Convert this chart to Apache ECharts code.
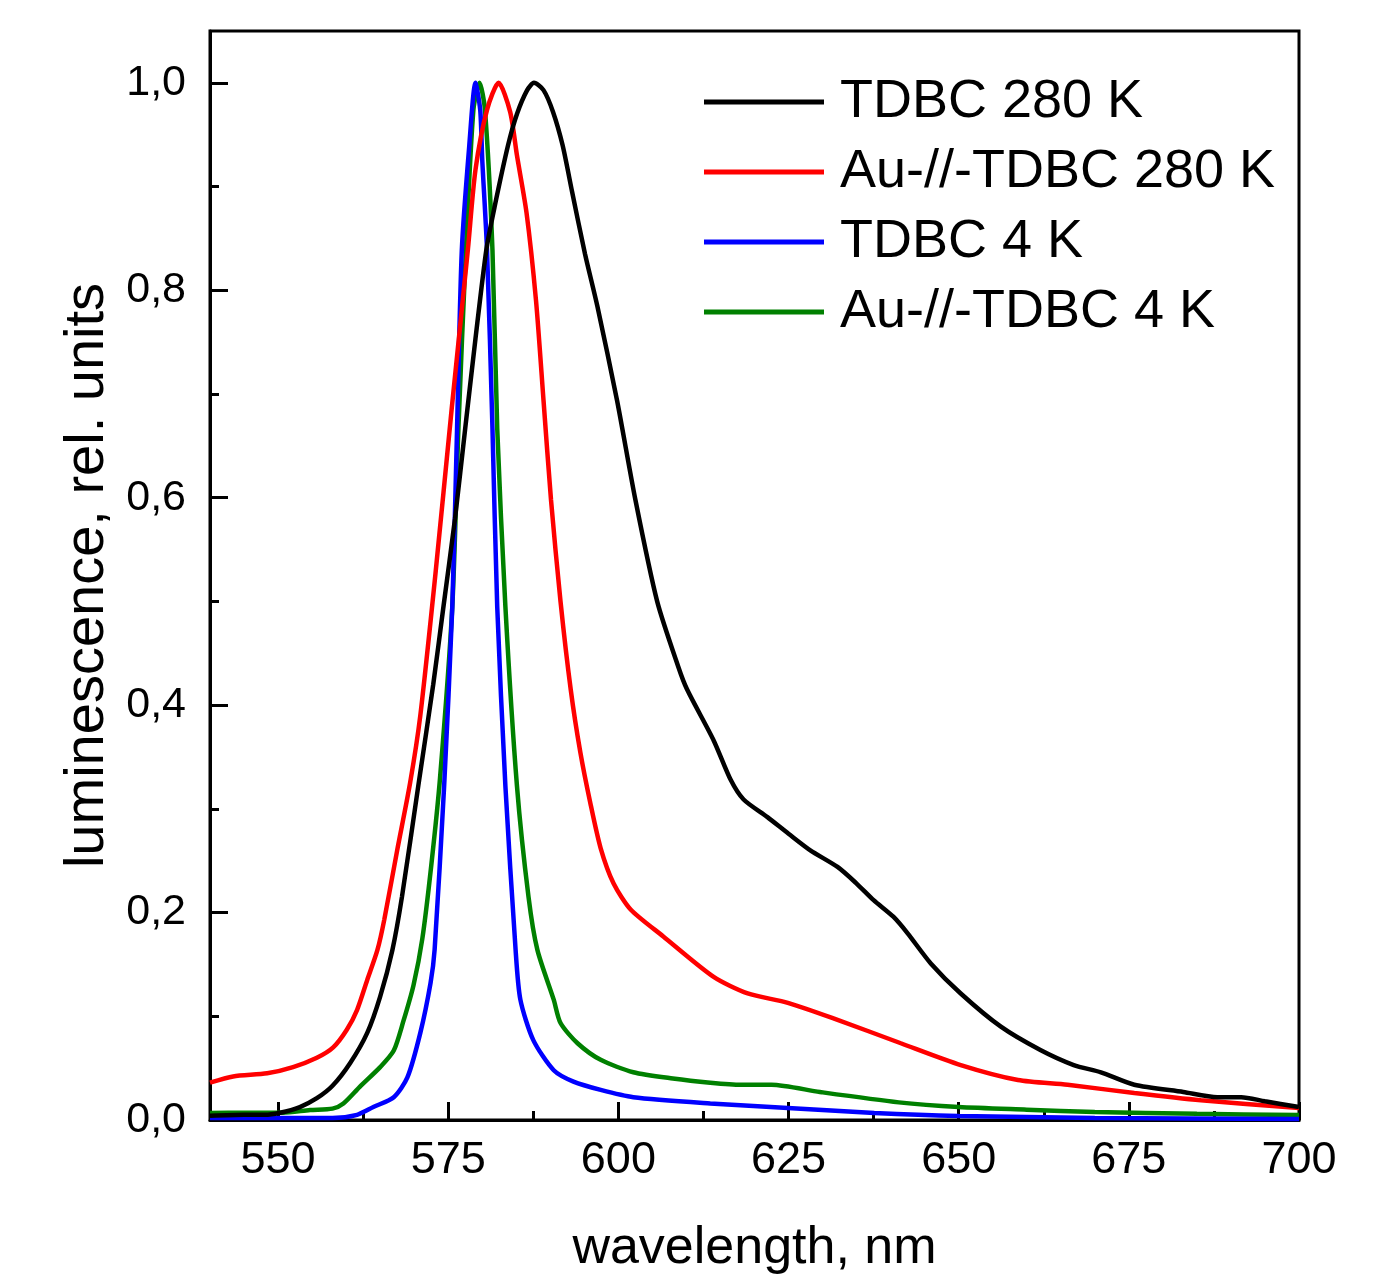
<!DOCTYPE html>
<html>
<head>
<meta charset="utf-8">
<script src="https://cdn.jsdelivr.net/npm/echarts@6/dist/echarts.min.js"></script>
<style>
html,body{margin:0;padding:0;background:#fff;}
#chart{width:1389px;height:1280px;}
</style>
</head>
<body>
<div id="chart"></div>
<script>
// ---- data (wavelength nm, relative luminescence) ----
const seriesNames = ['TDBC 280 K', 'Au-//-TDBC 280 K', 'TDBC 4 K', 'Au-//-TDBC 4 K'];

const tdbc280 = [
  [540,0.004],[545,0.005],[548,0.005],[550.3,0.007],[553.2,0.0125],[555.7,0.021],[558,0.033],
  [560.6,0.055],[563.1,0.084],[565,0.119],[566.8,0.164],[568.2,0.215],[570.6,0.322],[572.8,0.42],
  [574.3,0.495],[576,0.58],[577.5,0.667],[579,0.753],[580.6,0.839],[581.8,0.88],[583.8,0.94],
  [585.1,0.97],[586.6,0.993],[587.6,1.0],[589,0.993],[590.4,0.972],[591.8,0.94],[593.2,0.895],
  [595.1,0.835],[596.9,0.785],[599.8,0.694],[602.5,0.598],[605.7,0.5],[608.8,0.437],[610.1,0.415],
  [614,0.366],[616.5,0.328],[618.4,0.309],[621.9,0.292],[625,0.276],[628.2,0.26],[632.2,0.244],
  [635,0.228],[637.5,0.212],[640.4,0.196],[642.5,0.18],[645.9,0.151],[650.3,0.122],[656.2,0.09],
  [662,0.0675],[666.9,0.053],[670.9,0.046],[675.8,0.034],[683,0.027],[688,0.022],[691.5,0.022],
  [695,0.018],[700,0.0125]
];

const auTdbc280 = [
  [540,0.036],[543.4,0.042],[548.4,0.045],[552.2,0.051],[555.7,0.06],[558.1,0.07],[560.1,0.087],
  [561.6,0.106],[563.1,0.135],[564.6,0.164],[565.6,0.193],[567.5,0.26],[569.4,0.325],[570.9,0.39],
  [573.1,0.525],[575.5,0.685],[577.9,0.84],[579,0.916],[580.7,0.974],[582.4,1.0],[584.1,0.972],
  [585.1,0.93],[586.5,0.875],[587.9,0.79],[589,0.694],[590.1,0.598],[591.5,0.5],[593,0.415],
  [594.4,0.355],[595.9,0.305],[597.4,0.262],[599.3,0.228],[601.8,0.203],[606.6,0.177],[614,0.138],
  [619,0.122],[624.9,0.113],[631.6,0.098],[641.5,0.074],[650.3,0.053],[658.7,0.0386],[666,0.034],
  [675.8,0.026],[685.6,0.019],[700,0.0116]
];

const tdbc4 = [
  [540,0.002],[550,0.002],[558,0.002],[561.6,0.005],[564,0.0125],[567,0.022],[569,0.041],
  [570.9,0.084],[572.4,0.132],[573,0.164],[574.4,0.322],[575.6,0.495],[576.3,0.667],[577,0.839],
  [578.1,0.94],[579,1.0],[579.7,0.974],[580,0.926],[580.7,0.839],[581.5,0.667],[582.2,0.495],
  [583.4,0.322],[584.9,0.164],[585.6,0.116],[587.5,0.077],[590.5,0.048],[593.4,0.037],[597.4,0.029],
  [602.2,0.022],[613.5,0.016],[624.9,0.0116],[637.6,0.0068],[650,0.0039],[670,0.002],[700,0.001]
];

const auTdbc4 = [
  [540,0.0068],[545,0.007],[550.7,0.007],[554.7,0.0096],[558,0.011],[559.6,0.016],[562,0.032],
  [565,0.051],[567,0.067],[568.4,0.095],[569.9,0.13],[571.2,0.175],[572.5,0.245],[573.8,0.33],
  [575.6,0.495],[576.5,0.667],[577.6,0.839],[578.7,0.974],[579.6,1.0],[580.4,0.974],[581.5,0.839],
  [582.2,0.667],[583.4,0.495],[585.1,0.322],[586.8,0.215],[588.1,0.164],[590.5,0.116],[591.5,0.0935],
  [594,0.074],[597.4,0.058],[602.2,0.046],[608,0.04],[613.5,0.036],[618,0.034],[622.5,0.034],
  [629.6,0.027],[641.2,0.017],[650,0.0125],[660,0.01],[670,0.0077],[685,0.006],[700,0.0048]
];

const seriesColors = ['#000000', '#ff0000', '#0000ff', '#008000'];

// ---- axes ----
const xMin = 540, xMax = 700;
const yMin = 0, yMax = 1.05;
const xMajorTicks = [550, 575, 600, 625, 650, 675, 700];
const xMinorTicks = [562.5, 587.5, 612.5, 637.5, 662.5, 687.5];
const yMajorTicks = [0, 0.2, 0.4, 0.6, 0.8, 1.0];
const yMinorTicks = [0.1, 0.3, 0.5, 0.7, 0.9];

const FONT = '"Liberation Sans", Arial, Helvetica, sans-serif';

const chart = echarts.init(document.getElementById('chart'), null, {renderer: 'canvas'});

const allData = [tdbc280, auTdbc280, tdbc4, auTdbc4];

const option = {
  backgroundColor: '#ffffff',
  animation: false,
  grid: {
    left: 210, top: 31, width: 1089, height: 1089,
    show: true, borderColor: '#000', borderWidth: 3, backgroundColor: 'transparent',
    containLabel: false
  },
  legend: {
    orient: 'vertical',
    left: 699, top: 70,
    itemWidth: 120, itemHeight: 5, itemGap: 16,
    icon: 'rect',
    data: seriesNames.map((n, i) => ({name: n, itemStyle: {color: seriesColors[i]}})),
    textStyle: {fontSize: 54, fontFamily: FONT, color: '#000', lineHeight: 54, padding: [0, 0, 0, 11]},
    itemStyle: {borderWidth: 0}
  },
  xAxis: [
    {
      type: 'value', min: xMin, max: xMax, gridIndex: 0, position: 'bottom',
      name: 'wavelength, nm', nameLocation: 'middle', nameGap: 103,
      nameTextStyle: {fontSize: 52, fontFamily: FONT, color: '#000'},
      axisLine: {show: true, onZero: false, lineStyle: {color: '#000', width: 3}},
      axisTick: {show: true, inside: true, length: 18, customValues: xMajorTicks, lineStyle: {color: '#000', width: 3}},
      axisLabel: {show: true, customValues: xMajorTicks, margin: 18, fontSize: 45, fontFamily: FONT, color: '#000'},
      splitLine: {show: false}
    },
    {
      type: 'value', min: xMin, max: xMax, gridIndex: 0, position: 'bottom',
      axisLine: {show: false, onZero: false},
      axisTick: {show: true, inside: true, length: 9, customValues: xMinorTicks, lineStyle: {color: '#000', width: 3}},
      axisLabel: {show: false},
      splitLine: {show: false}
    }
  ],
  yAxis: [
    {
      type: 'value', min: yMin, max: yMax, gridIndex: 0, position: 'left',
      name: 'luminescence, rel. units', nameLocation: 'middle', nameGap: 93, nameRotate: 90,
      nameTextStyle: {fontSize: 56, fontFamily: FONT, color: '#000'},
      axisLine: {show: true, onZero: false, lineStyle: {color: '#000', width: 3}},
      axisTick: {show: true, inside: true, length: 18, customValues: yMajorTicks, lineStyle: {color: '#000', width: 3}},
      axisLabel: {show: true, customValues: yMajorTicks, margin: 24, fontSize: 43, fontFamily: FONT, color: '#000',
        formatter: v => Number(v).toFixed(1).replace('.', ',')},
      splitLine: {show: false}
    },
    {
      type: 'value', min: yMin, max: yMax, gridIndex: 0, position: 'left',
      axisLine: {show: false, onZero: false},
      axisTick: {show: true, inside: true, length: 9, customValues: yMinorTicks, lineStyle: {color: '#000', width: 3}},
      axisLabel: {show: false},
      splitLine: {show: false}
    }
  ],
  series: allData.map((d, i) => ({
    name: seriesNames[i],
    type: 'line',
    xAxisIndex: 0, yAxisIndex: 0,
    data: d,
    symbol: 'none', showSymbol: false,
    smooth: 0.25,
    lineStyle: {color: seriesColors[i], width: 4.5},
    itemStyle: {color: seriesColors[i]},
    z: 10 - i
  }))
};

chart.setOption(option);
</script>
</body>
</html>
